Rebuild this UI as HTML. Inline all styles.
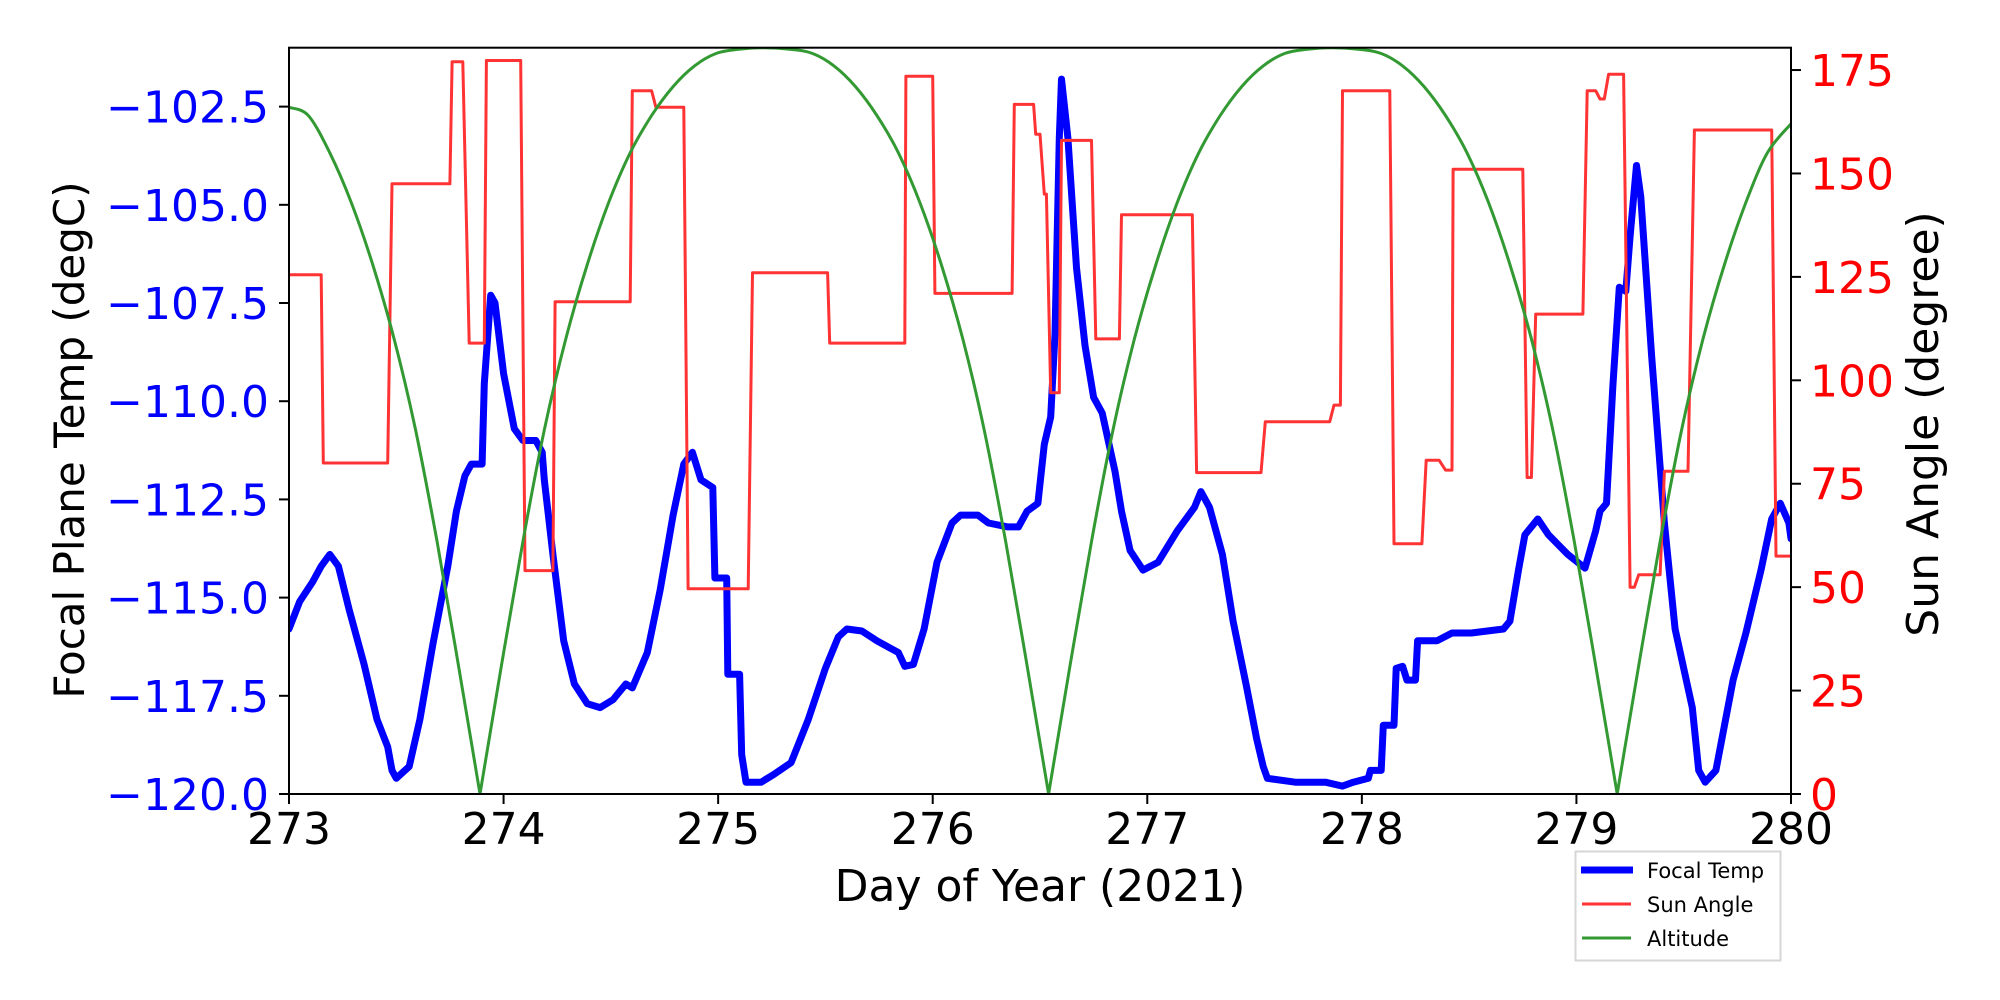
<!DOCTYPE html>
<html><head><meta charset="utf-8"><style>
html,body{margin:0;padding:0;background:#fff;}
svg{display:block;font-family:"DejaVu Sans","Liberation Sans",sans-serif;}
</style></head><body>
<svg id="chart" width="2000" height="1000" viewBox="0 0 2000 1000" xmlns="http://www.w3.org/2000/svg">
<rect width="2000" height="1000" fill="#fff"/>
<g id="plot"></g>
<g id="axes"></g>
<text x="1040" y="901" font-size="44" text-anchor="middle" fill="#000">Day of Year (2021)</text>
<text x="0" y="0" font-size="42" text-anchor="middle" fill="#000" transform="translate(84,440) rotate(-90)">Focal Plane Temp (degC)</text>
<text x="0" y="0" font-size="44" text-anchor="middle" fill="#000" transform="translate(1938,424) rotate(-90)">Sun Angle (degree)</text>
<g>
<rect x="1575.5" y="851.5" width="205" height="109" fill="#fff" stroke="#d6d6d6" stroke-width="2"/>
<line x1="1581" y1="870" x2="1633" y2="870" stroke="#0000ff" stroke-width="7"/>
<text x="1647" y="878" font-size="21" fill="#000">Focal Temp</text>
<line x1="1582" y1="904" x2="1631" y2="904" stroke="#ff3333" stroke-width="3"/>
<text x="1647" y="912" font-size="21" fill="#000">Sun Angle</text>
<line x1="1582" y1="938" x2="1631" y2="938" stroke="#339933" stroke-width="3"/>
<text x="1647" y="946" font-size="21" fill="#000">Altitude</text>
</g>
</svg>
<script>
const xTicks = [273,274,275,276,277,278,279,280];
const yLeftTicks = [-120,-117.5,-115,-112.5,-110,-107.5,-105,-102.5];
const yLeftLabels = ["\u2212120.0","\u2212117.5","\u2212115.0","\u2212112.5","\u2212110.0","\u2212107.5","\u2212105.0","\u2212102.5"];
const yRightTicks = [0,25,50,75,100,125,150,175];

const tempT = [273.00,273.05,273.11,273.15,273.19,273.23,273.28,273.35,273.41,273.46,273.48,273.50,273.56,273.61,273.67,273.74,273.78,273.82,273.85,273.90,273.91,273.94,273.96,274.00,274.05,274.09,274.15,274.18,
274.19,274.23,274.28,274.33,274.39,274.45,274.51,274.57,274.60,274.67,274.73,274.79,274.84,274.88,274.92,274.975,274.985,275.04,275.045,275.10,275.11,275.13,
275.20,275.26,275.34,275.42,275.50,275.56,275.60,275.67,275.74,275.84,275.87,275.91,275.96,276.02,276.09,276.13,276.21,276.26,276.35,276.40,276.44,276.49,276.52,276.55,276.57,276.59,276.60,276.63,276.67,276.71,276.75,276.79,276.85,276.88,276.92,276.98,277.05,277.14,277.22,277.25,277.29,
277.35,277.40,277.46,277.51,277.54,277.56,277.69,277.83,277.91,277.96,278.03,278.04,278.09,278.10,278.15,278.16,278.19,278.21,278.25,278.26,278.35,278.42,278.51,278.66,278.69,278.73,278.76,278.82,278.87,278.96,279.04,279.09,279.11,279.14,279.17,279.20,279.23,279.25,279.28,279.30,279.35,279.41,279.46,279.54,279.57,279.60,279.65,279.73,279.79,279.86,279.91,279.95,279.99,280.00];
const tempV = [-115.8,-115.1,-114.6,-114.2,-113.9,-114.2,-115.3,-116.7,-118.1,-118.8,-119.4,-119.6,-119.3,-118.1,-116.2,-114.2,-112.8,-111.9,-111.6,-111.6,-109.55,-107.3,-107.5,-109.3,-110.7,-111.0,-111.0,-111.3,
-112.0,-113.9,-116.1,-117.2,-117.7,-117.8,-117.6,-117.2,-117.3,-116.4,-114.8,-112.9,-111.6,-111.3,-112.0,-112.2,-114.5,-114.5,-116.95,-116.95,-119.0,-119.7,
-119.7,-119.5,-119.2,-118.1,-116.8,-116.0,-115.8,-115.85,-116.1,-116.4,-116.75,-116.7,-115.8,-114.1,-113.1,-112.9,-112.9,-113.1,-113.2,-113.2,-112.8,-112.6,-111.1,-110.4,-108.3,-103.3,-101.8,-103.3,-106.6,-108.6,-109.9,-110.3,-111.8,-112.8,-113.8,-114.3,-114.1,-113.3,-112.7,-112.3,-112.7,
-113.9,-115.6,-117.2,-118.6,-119.3,-119.6,-119.7,-119.7,-119.8,-119.7,-119.6,-119.4,-119.4,-118.25,-118.25,-116.8,-116.75,-117.1,-117.1,-116.1,-116.1,-115.9,-115.9,-115.8,-115.6,-114.3,-113.4,-113.0,-113.4,-113.9,-114.25,-113.3,-112.8,-112.6,-109.6,-107.1,-107.2,-105.8,-104.0,-104.8,-108.8,-113.1,-115.8,-117.8,-119.4,-119.7,-119.4,-117.1,-115.9,-114.3,-113.0,-112.6,-113.1,-113.5];

const sunT = [273.00,273.15,273.16,273.46,273.48,273.75,273.76,273.81,273.84,273.91,273.92,274.08,274.10,274.23,274.24,274.59,274.60,274.69,274.71,274.84,274.86,275.14,275.16,275.51,275.52,275.87,275.875,276.00,276.01,276.37,276.38,276.47,276.48,276.50,276.52,276.53,276.55,276.59,276.60,276.74,276.76,276.87,276.88,277.21,277.23,277.53,277.55,277.85,277.87,277.90,277.91,278.13,278.15,278.28,278.30,278.36,278.39,278.42,278.425,278.75,278.77,278.79,278.81,279.03,279.05,279.09,279.11,279.13,279.15,279.22,279.25,279.27,279.29,279.39,279.41,279.52,279.55,279.91,279.93,280.00];
const sunV = [125.5,125.5,80,80,147.5,147.5,177,177,109,109,177.3,177.3,54,54,119,119,170,170,166,166,49.6,49.6,126,126,109,109,173.5,173.5,121,121,166.7,166.7,159.5,159.5,145,145,97,97,158,158,110,110,140,140,77.7,77.7,90,90,94,94,170,170,60.5,60.5,80.7,80.7,78.3,78.3,151,151,76.5,76.5,116,116,170,170,168,168,174,174,50,50,53,53,78,78,160.5,160.5,57.5,57.5];

const altT = [273.00,273.09,273.19,273.29,273.39,273.49,273.59,273.69,273.79,273.89,273.99,274.09,274.19,274.29,274.39,274.49,274.59,274.69,274.79,274.89,274.99,275.09,275.21,275.34,275.44,275.54,275.64,275.74,275.84,275.94,276.04,276.14,276.24,276.34,276.44,276.54,276.64,276.74,276.84,276.94,277.04,277.14,277.24,277.34,277.44,277.54,277.64,277.74,277.86,277.99,278.09,278.19,278.29,278.39,278.49,278.59,278.69,278.79,278.89,278.99,279.09,279.19,279.29,279.39,279.49,279.59,279.69,279.79,279.89,280.00];
const altV = [166,164,155,143,128,110,88,61,31,0,31,61,88,110,128,143,155,164,171,176,179,180,180.4,180,179,176,171,164,155,143,128,110,88,61,31,0,31,61,88,110,128,143,155,164,171,176,179,180,180.4,180,179,176,171,164,155,143,128,110,88,61,31,0,31,61,88,110,128,143,155,162];

const X0=289, X1=1791, Y0=794, YT=47.7;
const xDomain=[273,280], yLDomain=[-120,-101], yRDomain=[0,180.4];
function sx(d){return X0+(d-xDomain[0])/(xDomain[1]-xDomain[0])*(X1-X0);}
function syL(v){return Y0-(v-yLDomain[0])/(yLDomain[1]-yLDomain[0])*(Y0-YT);}
function syR(v){return Y0-(v-yRDomain[0])/(yRDomain[1]-yRDomain[0])*(Y0-YT);}
const NS="http://www.w3.org/2000/svg";
const plot=document.getElementById('plot');
const axes=document.getElementById('axes');
function mk(tag,attrs,parent){const e=document.createElementNS(NS,tag);for(const k in attrs)e.setAttribute(k,attrs[k]);parent.appendChild(e);return e;}

const defs=mk('defs',{},plot);
const cp=mk('clipPath',{id:'clip'},defs);
mk('rect',{x:X0,y:YT,width:X1-X0,height:Y0-YT},cp);

function series(ts,vs,fy,color,w,name){
  const pts=ts.map((t,i)=>sx(t).toFixed(1)+','+fy(vs[i]).toFixed(1)).join(' ');
  const pl=mk('polyline',{points:pts,fill:'none',stroke:color,'stroke-width':w,'stroke-linejoin':'round','stroke-linecap':'round','clip-path':'url(#clip)'},plot);
  
  
}
function smoothSeries(ts,vs,fy,color,w,name){
  const P=ts.map((t,i)=>[sx(t),fy(vs[i])]);
  let d='M'+P[0][0].toFixed(1)+','+P[0][1].toFixed(1);
  for(let i=0;i<P.length-1;i++){
    const p0=P[Math.max(0,i-1)],p1=P[i],p2=P[i+1],p3=P[Math.min(P.length-1,i+2)];
    let c1=[p1[0]+(p2[0]-p0[0])/6,p1[1]+(p2[1]-p0[1])/6];
    let c2=[p2[0]-(p3[0]-p1[0])/6,p2[1]-(p3[1]-p1[1])/6];
    if(vs[i]===0){c1=[p1[0]+(p2[0]-p1[0])/3,p1[1]+(p2[1]-p1[1])/3];}
    if(vs[i+1]===0){c2=[p2[0]-(p2[0]-p1[0])/3,p2[1]-(p2[1]-p1[1])/3];}
    d+=' C'+c1[0].toFixed(1)+','+c1[1].toFixed(1)+' '+c2[0].toFixed(1)+','+c2[1].toFixed(1)+' '+p2[0].toFixed(1)+','+p2[1].toFixed(1);
  }
  const pa=mk('path',{d:d,fill:'none',stroke:color,'stroke-width':w,'clip-path':'url(#clip)'},plot);
  
  
}
series(tempT,tempV,syL,'#0000ff',7,'focal-temp-line');
series(sunT,sunV,syR,'#ff3333',3,'sun-angle-line');
smoothSeries(altT,altV,syR,'#339933',3,'altitude-line');

const fr=mk('rect',{x:X0,y:YT,width:X1-X0,height:Y0-YT,fill:'none',stroke:'#000','stroke-width':2},axes);



xTicks.forEach(t=>{
  const x=sx(t);
  const tk=mk('line',{x1:x,y1:Y0,x2:x,y2:Y0+10,stroke:'#000','stroke-width':2},axes);
  
  
  const tx=mk('text',{x:x,y:Y0+50,'font-size':44,'text-anchor':'middle',fill:'#000'},axes);
  tx.textContent=String(t);
  
  
});
yLeftTicks.forEach((v,i)=>{
  const y=syL(v);
  const tk=mk('line',{x1:X0-10,y1:y,x2:X0,y2:y,stroke:'#000','stroke-width':2},axes);
  
  
  const tx=mk('text',{x:X0-20,y:y+16,'font-size':44,'text-anchor':'end',fill:'#0000ff'},axes);
  tx.textContent=yLeftLabels[i];
  
  
});
yRightTicks.forEach(v=>{
  const y=syR(v);
  const tk=mk('line',{x1:X1,y1:y,x2:X1+10,y2:y,stroke:'#000','stroke-width':2},axes);
  
  
  const tx=mk('text',{x:X1+19,y:y+16,'font-size':44,'text-anchor':'start',fill:'#ff0000'},axes);
  tx.textContent=String(v);
  
  
});
</script>
</body></html>
